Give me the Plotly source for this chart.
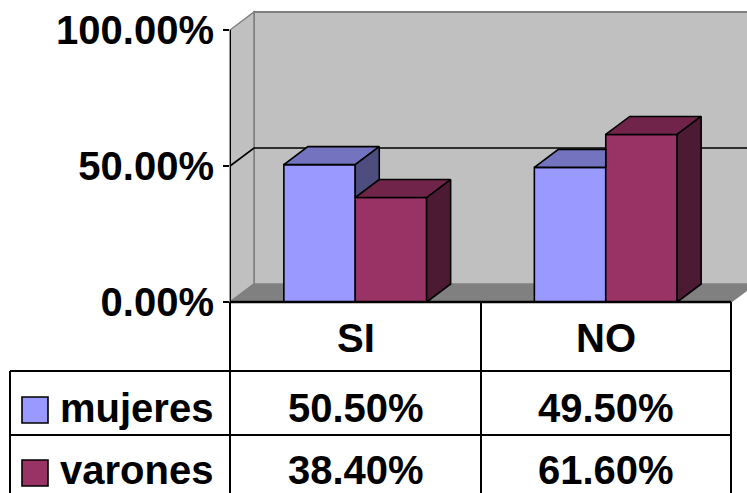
import plotly.graph_objects as go

# ---- data -------------------------------------------------------------
categories = ["SI", "NO"]
series_names = ["mujeres", "varones"]
mujeres = [50.5, 49.5]
varones = [38.4, 61.6]
tick_values = [0, 50, 100]
tick_labels = ["0.00%", "50.00%", "100.00%"]

# ---- styling ----------------------------------------------------------
W, H = 747, 493
FONT = "Liberation Sans, Arial, sans-serif"
FS = 40
front_colors = ["#9999FF", "#993366"]
top_colors = ["#7373BF", "#70244A"]
side_colors = ["#4D4D80", "#4D1A33"]
WALL = "#C0C0C0"
FLOOR = "#808080"
EDGE = "#808080"

# pixel geometry of the plotting box
AX_X = 230          # y-axis position (px)
UNIT_X = 250.5      # px per category
ZERO_Y = 302        # px of 0 %
PX_PER_PCT = 2.72   # px per percentage point
DEPTH_PX = (24, 18) # 3-D depth offset (px right, px up)

bar_w = 0.285
dx = DEPTH_PX[0] / UNIT_X
dy = DEPTH_PX[1] / PX_PER_PCT

x_lo = -0.5
x_hi = x_lo + (W - AX_X) / UNIT_X
y_lo = -(H - ZERO_Y) / PX_PER_PCT
y_hi = ZERO_Y / PX_PER_PCT
x_end = len(categories) - 0.5
x_far = x_hi + 1


def px(x):
    return x / W


def py(y):
    return 1 - y / H


# data -> paper (for the walls, which run past the right edge of the plot box)
def dpx(x):
    return px(AX_X + (x - x_lo) * UNIT_X)


def dpy(y):
    return py(ZERO_Y - y * PX_PER_PCT)


def ppath(points, close=False):
    s = " ".join(("M" if k == 0 else "L") + f" {dpx(x)},{dpy(y)}"
                 for k, (x, y) in enumerate(points))
    return s + (" Z" if close else "")


fig = go.Figure()

values = [mujeres, varones]
n = len(values)

# front faces of the columns
for j, (name, vals) in enumerate(zip(series_names, values)):
    fig.add_trace(go.Bar(
        x=list(range(len(categories))), y=vals, name=name,
        width=bar_w, offset=-bar_w * n / 2 + j * bar_w,
        marker=dict(color=front_colors[j], line=dict(color="black", width=1.6)),
        hoverinfo="skip", showlegend=False,
    ))


def face(xs, ys, color):
    fig.add_trace(go.Scatter(
        x=xs + xs[:1], y=ys + ys[:1], mode="lines", fill="toself", fillcolor=color,
        line=dict(color="black", width=1.6), hoverinfo="skip", showlegend=False,
    ))


# top and side faces, hidden parts removed where the next column covers them
for i in range(len(categories)):
    for j in range(n):
        h = values[j][i]
        x0 = i - bar_w * n / 2 + j * bar_w
        x1 = x0 + bar_w
        hn = values[j + 1][i] if j + 1 < n else 0.0
        # top face
        if hn >= h + dy:
            face([x0, x1, x1, x0 + dx], [h, h, h + dy, h + dy], top_colors[j])
        elif hn > h:
            xk = x1 + dx * (hn - h) / dy
            face([x0, x1, x1, xk, x1 + dx, x0 + dx],
                 [h, h, hn, hn, h + dy, h + dy], top_colors[j])
        else:
            face([x0, x1, x1 + dx, x0 + dx], [h, h, h + dy, h + dy], top_colors[j])
        # side face
        b = min(hn, h)
        if b < h:
            face([x1, x1, x1 + dx, x1 + dx], [b, h, h + dy, b + dy], side_colors[j])

shapes = []
P = dict(xref="paper", yref="paper", layer="below")
# back wall
shapes.append(dict(type="path", **P,
                   path=ppath([(x_lo + dx, dy), (x_far, dy), (x_far, 100 + dy),
                               (x_lo + dx, 100 + dy)], close=True),
                   fillcolor=WALL, line=dict(width=0)))
shapes.append(dict(type="path", **P,
                   path=ppath([(x_far, 100 + dy), (x_lo + dx, 100 + dy), (x_lo + dx, dy)]),
                   line=dict(color=EDGE, width=2)))
# side wall
shapes.append(dict(type="path", **P,
                   path=ppath([(x_lo, 0), (x_lo, 100), (x_lo + dx, 100 + dy),
                               (x_lo + dx, dy)], close=True),
                   fillcolor=WALL, line=dict(color=EDGE, width=1.5)))
# floor
shapes.append(dict(type="path", **P,
                   path=ppath([(x_lo, 0), (x_end, 0), (x_end + dx, dy),
                               (x_lo + dx, dy)], close=True),
                   fillcolor=FLOOR, line=dict(color=EDGE, width=1.5)))
# 50 % gridline
shapes.append(dict(type="path", **P,
                   path=ppath([(x_lo, 50), (x_lo + dx, 50 + dy), (x_far, 50 + dy)]),
                   line=dict(color="black", width=1.6)))
# value axis and category axis lines
shapes.append(dict(type="line", xref="x", yref="y", layer="above",
                   x0=x_lo, x1=x_lo, y0=0, y1=100, line=dict(color="black", width=2)))
shapes.append(dict(type="line", xref="x", yref="y", layer="above",
                   x0=x_lo, x1=x_end, y0=0, y1=0, line=dict(color="black", width=2.5)))

# data table grid
tbl_left, tbl_c1, tbl_c2, tbl_right = 10, AX_X, 481, 731
row1, row2 = 371, 435
tbl_lines = [
    (tbl_left, row1, tbl_right, row1),
    (tbl_left, row2, tbl_right, row2),
    (tbl_left, row1, tbl_left, H + 2),
    (tbl_c1, ZERO_Y, tbl_c1, H + 2),
    (tbl_c2, ZERO_Y, tbl_c2, H + 2),
    (tbl_right, ZERO_Y, tbl_right, H + 2),
]
for (a, b_, c, d) in tbl_lines:
    shapes.append(dict(type="line", xref="paper", yref="paper",
                       x0=px(a), y0=py(b_), x1=px(c), y1=py(d),
                       line=dict(color="black", width=2)))

# legend keys in the table
key_rows = [(397, 423), (460, 486)]
for j, (k0, k1) in enumerate(key_rows):
    shapes.append(dict(type="rect", xref="paper", yref="paper",
                       x0=px(22), x1=px(48), y0=py(k1), y1=py(k0),
                       fillcolor=front_colors[j], line=dict(color="black", width=1.6)))

annotations = []
font = dict(family=FONT, size=FS, color="black", weight="bold")
col_centers = [(tbl_c1 + tbl_c2) / 2, (tbl_c2 + tbl_right) / 2]
for c, cx in zip(categories, col_centers):
    annotations.append(dict(xref="paper", yref="paper", x=px(cx), y=py(338),
                            text=c, showarrow=False, font=font,
                            xanchor="center", yanchor="middle"))
row_centers = [408, 470]
for j, (name, vals) in enumerate(zip(series_names, values)):
    annotations.append(dict(xref="paper", yref="paper", x=px(58), y=py(row_centers[j]),
                            text=name, showarrow=False, font=font,
                            xanchor="left", yanchor="middle"))
    for v, cx in zip(vals, col_centers):
        annotations.append(dict(xref="paper", yref="paper", x=px(cx), y=py(row_centers[j]),
                                text=f"{v:.2f}%", showarrow=False, font=font,
                                xanchor="center", yanchor="middle"))

fig.update_layout(
    width=W, height=H,
    margin=dict(l=0, r=0, t=0, b=0),
    paper_bgcolor="white", plot_bgcolor="rgba(0,0,0,0)",
    barmode="overlay",
    shapes=shapes, annotations=annotations,
    xaxis=dict(domain=[AX_X / W, 1], range=[x_lo, x_hi], visible=False,
               fixedrange=True),
    yaxis=dict(domain=[0, 1], range=[y_lo, y_hi], tickvals=tick_values,
               ticktext=tick_labels, ticks="outside", ticklen=6, tickwidth=2,
               tickcolor="black", showgrid=False, zeroline=False, showline=False,
               tickfont=font, ticklabelstandoff=1, fixedrange=True),
)

fig.write_html("out.html")
